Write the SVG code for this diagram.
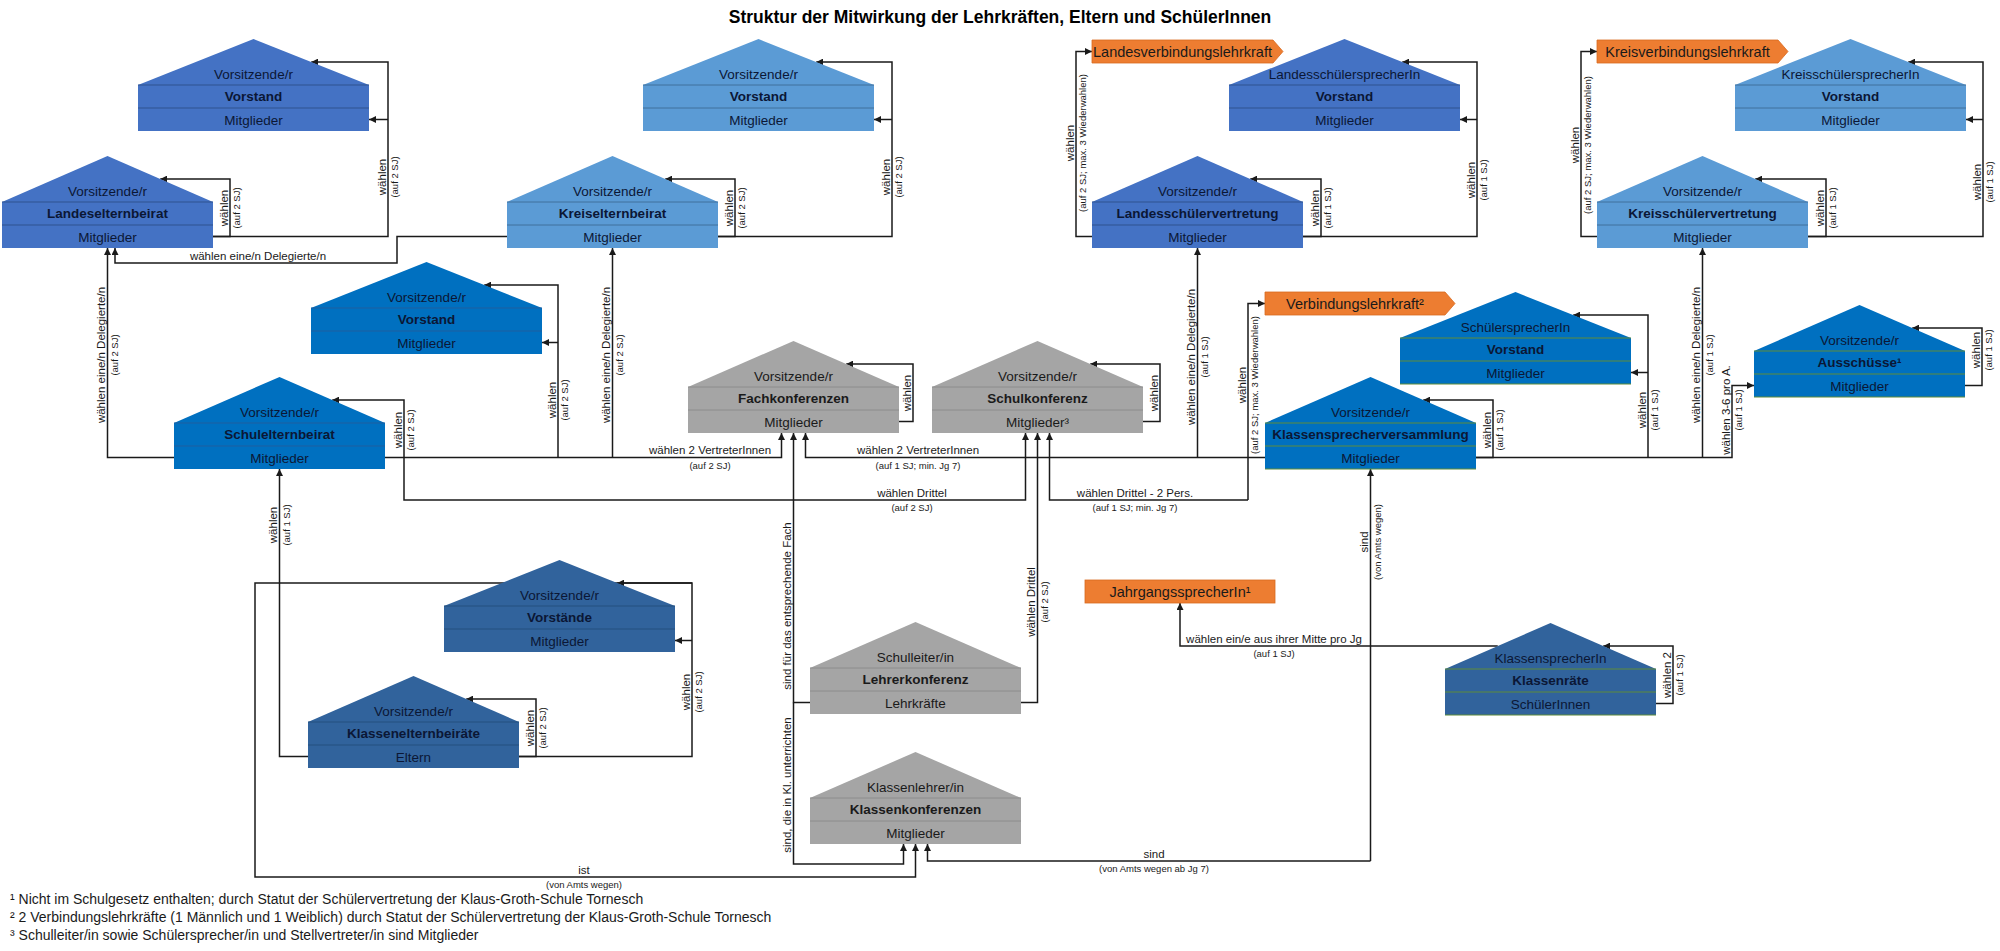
<svg xmlns="http://www.w3.org/2000/svg" width="2000" height="951" viewBox="0 0 2000 951">
<defs>
<marker id="ah" viewBox="0 0 10 10" refX="10" refY="5" markerWidth="7" markerHeight="7" orient="auto" markerUnits="userSpaceOnUse"><path d="M0,0L10,5L0,10z" fill="#1A1A1A"/></marker>
<style>
.f{stroke:none}
.lb .f{fill:#4472C4}.lb .s{stroke:#2F528F}
.mb .f{fill:#5B9BD5}.mb .s{stroke:#41719C}
.sb .f{fill:#0070C0}.sb .s{stroke:#1F5F9F}
.sg .f{fill:#0070C0}.sg .s{stroke:#5E8C3A}
.db .f{fill:#31639C}.db .s{stroke:#24507F}
.dg .f{fill:#31639C}.dg .s{stroke:#5E8C3A}
.gr .f{fill:#A5A5A5}.gr .s{stroke:#8C8C8C}
.s{fill:none;stroke-width:1}
.t{font-family:"Liberation Sans",Arial,sans-serif;font-size:13.5px;text-anchor:middle;fill:#0B1735}
.gr .t{fill:#1A1A1A}
.b{font-weight:bold}
.conn path{fill:none;stroke:#1A1A1A;stroke-width:1.5}
.arr{marker-end:url(#ah)}
.lbl{font-family:"Liberation Sans",Arial,sans-serif;font-size:11.5px;text-anchor:middle;fill:#1A1A1A}
.sub{font-size:9.5px}
.or{fill:#ED7D31;stroke:#D86A20;stroke-width:0.8}
.ot{font-family:"Liberation Sans",Arial,sans-serif;font-size:14.5px;text-anchor:middle;fill:#1A1A1A}
.fn{font-family:"Liberation Sans",Arial,sans-serif;font-size:14px;fill:#1A1A1A}
.title{font-family:"Liberation Sans",Arial,sans-serif;font-size:17.5px;font-weight:bold;text-anchor:middle;fill:#000}
</style>
</defs>
<rect width="2000" height="951" fill="#FFFFFF"/>
<text class="title" x="1000" y="23">Struktur der Mitwirkung der Lehrkräften, Eltern und SchülerInnen</text>

<g id="connectors" class="conn">
<path class="arr" d="M213,236.5H388V62H311.25"/>
<path class="arr" d="M388,119.5H369"/>
<path class="arr" d="M213,236.5H230V179H160.25"/>
<path class="arr" d="M507,236.5H397V263H115V248"/>
<path class="arr" d="M718,236.5H735V179H665.25"/>
<path class="arr" d="M718,236.5H892V62H816.25"/>
<path class="arr" d="M892,119.5H874"/>
<path class="arr" d="M174,457.5H107.5V248"/>
<path class="arr" d="M385,457.5H781.5V433"/>
<path class="arr" d="M612.5,457.5V248"/>
<path class="arr" d="M558,457.5V285H484.25"/>
<path class="arr" d="M558,342.5H542"/>
<path class="arr" d="M404,457.5V400H332.25"/>
<path class="arr" d="M404,457.5V500H1025.5V433"/>
<path class="arr" d="M899,421.5H913V364H846.25"/>
<path class="arr" d="M1143,421.5H1160V364H1090.25"/>
<path class="arr" d="M1265,457.5H805.5V433"/>
<path class="arr" d="M1197.5,457.5V248"/>
<path class="arr" d="M1248,500V303.5H1265"/>
<path class="arr" d="M1248,500H1049.5V433"/>
<path class="arr" d="M1476,457.5H1493V400H1423.25"/>
<path class="arr" d="M1476,457.5H1732V385.5H1754"/>
<path class="arr" d="M1648,457.5V315H1573.25"/>
<path class="arr" d="M1648,372.5H1631"/>
<path class="arr" d="M1702.5,457.5V248"/>
<path class="arr" d="M1965,385.5H1982V328H1912.25"/>
<path class="arr" d="M1092,236.5H1076V51.5H1092"/>
<path class="arr" d="M1303,236.5H1321V179H1250.25"/>
<path class="arr" d="M1303,236.5H1477V62H1402.25"/>
<path class="arr" d="M1477,119.5H1460"/>
<path class="arr" d="M1597,236.5H1581V51.5H1597"/>
<path class="arr" d="M1808,236.5H1826V179H1755.25"/>
<path class="arr" d="M1808,236.5H1983V62H1908.25"/>
<path class="arr" d="M1983,119.5H1966"/>
<path class="arr" d="M308,756.5H279.5V469"/>
<path class="arr" d="M519,756.5H536V699H466.25"/>
<path class="arr" d="M519,756.5H692V583H617.25"/>
<path class="arr" d="M692,640.5H675"/>
<path class="arr" d="M692,583H255V877H915.5V844"/>
<path class="arr" d="M810,702.5H793.5V433"/>
<path class="arr" d="M793.5,702.5V864H903.5V844"/>
<path class="arr" d="M1021,702.5H1037.5V433"/>
<path class="arr" d="M1497.75,646H1180V603"/>
<path class="arr" d="M1370.5,861V469"/>
<path class="arr" d="M1370.5,861H927.5V844"/>
<path class="arr" d="M1656,703.5H1673V646H1603.25"/>
</g>

<g id="connector-labels">
<g transform="translate(388,177) rotate(-90)"><text class="lbl" y="-2.5">wählen</text><text class="lbl sub" y="10">(auf 2 SJ)</text></g>
<g transform="translate(230,208) rotate(-90)"><text class="lbl" y="-2.5">wählen</text><text class="lbl sub" y="10">(auf 2 SJ)</text></g>
<g transform="translate(735,208) rotate(-90)"><text class="lbl" y="-2.5">wählen</text><text class="lbl sub" y="10">(auf 2 SJ)</text></g>
<g transform="translate(892,177) rotate(-90)"><text class="lbl" y="-2.5">wählen</text><text class="lbl sub" y="10">(auf 2 SJ)</text></g>
<g transform="translate(107.5,355) rotate(-90)"><text class="lbl" y="-2.5">wählen eine/n Delegierte/n</text><text class="lbl sub" y="10">(auf 2 SJ)</text></g>
<g transform="translate(612.5,355) rotate(-90)"><text class="lbl" y="-2.5">wählen eine/n Delegierte/n</text><text class="lbl sub" y="10">(auf 2 SJ)</text></g>
<g transform="translate(558,400) rotate(-90)"><text class="lbl" y="-2.5">wählen</text><text class="lbl sub" y="10">(auf 2 SJ)</text></g>
<g transform="translate(404,430) rotate(-90)"><text class="lbl" y="-2.5">wählen</text><text class="lbl sub" y="10">(auf 2 SJ)</text></g>
<g transform="translate(913,393) rotate(-90)"><text class="lbl" y="-2.5">wählen</text></g>
<g transform="translate(1160,393) rotate(-90)"><text class="lbl" y="-2.5">wählen</text></g>
<g transform="translate(1197.5,357) rotate(-90)"><text class="lbl" y="-2.5">wählen eine/n Delegierte/n</text><text class="lbl sub" y="10">(auf 1 SJ)</text></g>
<g transform="translate(1248,385) rotate(-90)"><text class="lbl" y="-2.5">wählen</text><text class="lbl sub" y="10">(auf 2 SJ; max. 3 Wiederwahlen)</text></g>
<g transform="translate(1493,430) rotate(-90)"><text class="lbl" y="-2.5">wählen</text><text class="lbl sub" y="10">(auf 1 SJ)</text></g>
<g transform="translate(1648,410) rotate(-90)"><text class="lbl" y="-2.5">wählen</text><text class="lbl sub" y="10">(auf 1 SJ)</text></g>
<g transform="translate(1702.5,355) rotate(-90)"><text class="lbl" y="-2.5">wählen eine/n Delegierte/n</text><text class="lbl sub" y="10">(auf 1 SJ)</text></g>
<g transform="translate(1732,410) rotate(-90)"><text class="lbl" y="-2.5">wählen 3-6 pro A.</text><text class="lbl sub" y="10">(auf 1 SJ)</text></g>
<g transform="translate(1982,350) rotate(-90)"><text class="lbl" y="-2.5">wählen</text><text class="lbl sub" y="10">(auf 1 SJ)</text></g>
<g transform="translate(1076,143) rotate(-90)"><text class="lbl" y="-2.5">wählen</text><text class="lbl sub" y="10">(auf 2 SJ; max. 3 Wiederwahlen)</text></g>
<g transform="translate(1321,208) rotate(-90)"><text class="lbl" y="-2.5">wählen</text><text class="lbl sub" y="10">(auf 1 SJ)</text></g>
<g transform="translate(1477,180) rotate(-90)"><text class="lbl" y="-2.5">wählen</text><text class="lbl sub" y="10">(auf 1 SJ)</text></g>
<g transform="translate(1581,145) rotate(-90)"><text class="lbl" y="-2.5">wählen</text><text class="lbl sub" y="10">(auf 2 SJ; max. 3 Wiederwahlen)</text></g>
<g transform="translate(1826,208) rotate(-90)"><text class="lbl" y="-2.5">wählen</text><text class="lbl sub" y="10">(auf 1 SJ)</text></g>
<g transform="translate(1983,182) rotate(-90)"><text class="lbl" y="-2.5">wählen</text><text class="lbl sub" y="10">(auf 1 SJ)</text></g>
<g transform="translate(279.5,525) rotate(-90)"><text class="lbl" y="-2.5">wählen</text><text class="lbl sub" y="10">(auf 1 SJ)</text></g>
<g transform="translate(536,728) rotate(-90)"><text class="lbl" y="-2.5">wählen</text><text class="lbl sub" y="10">(auf 2 SJ)</text></g>
<g transform="translate(692,692) rotate(-90)"><text class="lbl" y="-2.5">wählen</text><text class="lbl sub" y="10">(auf 2 SJ)</text></g>
<g transform="translate(793.5,606) rotate(-90)"><text class="lbl" y="-2.5">sind für das entsprechende Fach</text></g>
<g transform="translate(793.5,785) rotate(-90)"><text class="lbl" y="-2.5">sind, die in Kl. unterrichten</text></g>
<g transform="translate(1037.5,602) rotate(-90)"><text class="lbl" y="-2.5">wählen Drittel</text><text class="lbl sub" y="10">(auf 2 SJ)</text></g>
<g transform="translate(1370.5,542) rotate(-90)"><text class="lbl" y="-2.5">sind</text><text class="lbl sub" y="10">(von Amts wegen)</text></g>
<g transform="translate(1673,675) rotate(-90)"><text class="lbl" y="-2.5">wählen 2</text><text class="lbl sub" y="10">(auf 1 SJ)</text></g>
<text class="lbl" x="258" y="259.5">wählen eine/n Delegierte/n</text>
<text class="lbl" x="710" y="454">wählen 2 VertreterInnen</text><text class="lbl sub" x="710" y="468.5">(auf 2 SJ)</text>
<text class="lbl" x="918" y="454">wählen 2 VertreterInnen</text><text class="lbl sub" x="918" y="468.5">(auf 1 SJ; min. Jg 7)</text>
<text class="lbl" x="912" y="496.5">wählen Drittel</text><text class="lbl sub" x="912" y="511">(auf 2 SJ)</text>
<text class="lbl" x="1135" y="496.5">wählen Drittel - 2 Pers.</text><text class="lbl sub" x="1135" y="511">(auf 1 SJ; min. Jg 7)</text>
<text class="lbl" x="584" y="873.5">ist</text><text class="lbl sub" x="584" y="888">(von Amts wegen)</text>
<text class="lbl" x="1154" y="857.5">sind</text><text class="lbl sub" x="1154" y="872">(von Amts wegen ab Jg 7)</text>
<text class="lbl" x="1274" y="642.5">wählen ein/e aus ihrer Mitte pro Jg</text><text class="lbl sub" x="1274" y="657">(auf 1 SJ)</text>
</g>

<g id="h-leb-vorstand" class="lb"><polygon class="f" points="138,85 369,85 253.5,39"/><rect class="f" x="138" y="85" width="231" height="46"/><path class="s" d="M138,85H369M138,108H369"/><text class="t" x="253.5" y="79">Vorsitzende/r</text><text class="t b" x="253.5" y="101">Vorstand</text><text class="t" x="253.5" y="124.5">Mitglieder</text></g>
<g id="h-leb" class="lb"><polygon class="f" points="2,202 213,202 107.5,156"/><rect class="f" x="2" y="202" width="211" height="46"/><path class="s" d="M2,202H213M2,225H213"/><text class="t" x="107.5" y="196">Vorsitzende/r</text><text class="t b" x="107.5" y="218">Landeselternbeirat</text><text class="t" x="107.5" y="241.5">Mitglieder</text></g>
<g id="h-keb-vorstand" class="mb"><polygon class="f" points="643,85 874,85 758.5,39"/><rect class="f" x="643" y="85" width="231" height="46"/><path class="s" d="M643,85H874M643,108H874"/><text class="t" x="758.5" y="79">Vorsitzende/r</text><text class="t b" x="758.5" y="101">Vorstand</text><text class="t" x="758.5" y="124.5">Mitglieder</text></g>
<g id="h-keb" class="mb"><polygon class="f" points="507,202 718,202 612.5,156"/><rect class="f" x="507" y="202" width="211" height="46"/><path class="s" d="M507,202H718M507,225H718"/><text class="t" x="612.5" y="196">Vorsitzende/r</text><text class="t b" x="612.5" y="218">Kreiselternbeirat</text><text class="t" x="612.5" y="241.5">Mitglieder</text></g>
<g id="h-seb-vorstand" class="sb"><polygon class="f" points="311,308 542,308 426.5,262"/><rect class="f" x="311" y="308" width="231" height="46"/><path class="s" d="M311,308H542M311,331H542"/><text class="t" x="426.5" y="302">Vorsitzende/r</text><text class="t b" x="426.5" y="324">Vorstand</text><text class="t" x="426.5" y="347.5">Mitglieder</text></g>
<g id="h-seb" class="sb"><polygon class="f" points="174,423 385,423 279.5,377"/><rect class="f" x="174" y="423" width="211" height="46"/><path class="s" d="M174,423H385M174,446H385"/><text class="t" x="279.5" y="417">Vorsitzende/r</text><text class="t b" x="279.5" y="439">Schulelternbeirat</text><text class="t" x="279.5" y="462.5">Mitglieder</text></g>
<g id="h-fachkonferenzen" class="gr"><polygon class="f" points="688,387 899,387 793.5,341"/><rect class="f" x="688" y="387" width="211" height="46"/><path class="s" d="M688,387H899M688,410H899"/><text class="t" x="793.5" y="381">Vorsitzende/r</text><text class="t b" x="793.5" y="403">Fachkonferenzen</text><text class="t" x="793.5" y="426.5">Mitglieder</text></g>
<g id="h-schulkonferenz" class="gr"><polygon class="f" points="932,387 1143,387 1037.5,341"/><rect class="f" x="932" y="387" width="211" height="46"/><path class="s" d="M932,387H1143M932,410H1143"/><text class="t" x="1037.5" y="381">Vorsitzende/r</text><text class="t b" x="1037.5" y="403">Schulkonferenz</text><text class="t" x="1037.5" y="426.5">Mitglieder³</text></g>
<g id="h-vorstaende" class="db"><polygon class="f" points="444,606 675,606 559.5,560"/><rect class="f" x="444" y="606" width="231" height="46"/><path class="s" d="M444,606H675M444,629H675"/><text class="t" x="559.5" y="600">Vorsitzende/r</text><text class="t b" x="559.5" y="622">Vorstände</text><text class="t" x="559.5" y="645.5">Mitglieder</text></g>
<g id="h-klasseneltern" class="db"><polygon class="f" points="308,722 519,722 413.5,676"/><rect class="f" x="308" y="722" width="211" height="46"/><path class="s" d="M308,722H519M308,745H519"/><text class="t" x="413.5" y="716">Vorsitzende/r</text><text class="t b" x="413.5" y="738">Klassenelternbeiräte</text><text class="t" x="413.5" y="761.5">Eltern</text></g>
<g id="h-lehrerkonferenz" class="gr"><polygon class="f" points="810,668 1021,668 915.5,622"/><rect class="f" x="810" y="668" width="211" height="46"/><path class="s" d="M810,668H1021M810,691H1021"/><text class="t" x="915.5" y="662">Schulleiter/in</text><text class="t b" x="915.5" y="684">Lehrerkonferenz</text><text class="t" x="915.5" y="707.5">Lehrkräfte</text></g>
<g id="h-klassenkonferenzen" class="gr"><polygon class="f" points="810,798 1021,798 915.5,752"/><rect class="f" x="810" y="798" width="211" height="46"/><path class="s" d="M810,798H1021M810,821H1021"/><text class="t" x="915.5" y="792">Klassenlehrer/in</text><text class="t b" x="915.5" y="814">Klassenkonferenzen</text><text class="t" x="915.5" y="837.5">Mitglieder</text></g>
<g id="h-lsv-vorstand" class="lb"><polygon class="f" points="1229,85 1460,85 1344.5,39"/><rect class="f" x="1229" y="85" width="231" height="46"/><path class="s" d="M1229,85H1460M1229,108H1460"/><text class="t" x="1344.5" y="79">LandesschülersprecherIn</text><text class="t b" x="1344.5" y="101">Vorstand</text><text class="t" x="1344.5" y="124.5">Mitglieder</text></g>
<g id="h-lsv" class="lb"><polygon class="f" points="1092,202 1303,202 1197.5,156"/><rect class="f" x="1092" y="202" width="211" height="46"/><path class="s" d="M1092,202H1303M1092,225H1303"/><text class="t" x="1197.5" y="196">Vorsitzende/r</text><text class="t b" x="1197.5" y="218">Landesschülervertretung</text><text class="t" x="1197.5" y="241.5">Mitglieder</text></g>
<g id="h-kreis-vorstand" class="mb"><polygon class="f" points="1735,85 1966,85 1850.5,39"/><rect class="f" x="1735" y="85" width="231" height="46"/><path class="s" d="M1735,85H1966M1735,108H1966"/><text class="t" x="1850.5" y="79">KreisschülersprecherIn</text><text class="t b" x="1850.5" y="101">Vorstand</text><text class="t" x="1850.5" y="124.5">Mitglieder</text></g>
<g id="h-kreis-sv" class="mb"><polygon class="f" points="1597,202 1808,202 1702.5,156"/><rect class="f" x="1597" y="202" width="211" height="46"/><path class="s" d="M1597,202H1808M1597,225H1808"/><text class="t" x="1702.5" y="196">Vorsitzende/r</text><text class="t b" x="1702.5" y="218">Kreisschülervertretung</text><text class="t" x="1702.5" y="241.5">Mitglieder</text></g>
<g id="h-sprecher-vorstand" class="sg"><polygon class="f" points="1400,338 1631,338 1515.5,292"/><rect class="f" x="1400" y="338" width="231" height="46"/><path class="s" d="M1400,338H1631M1400,361H1631M1400,384H1631"/><text class="t" x="1515.5" y="332">SchülersprecherIn</text><text class="t b" x="1515.5" y="354">Vorstand</text><text class="t" x="1515.5" y="377.5">Mitglieder</text></g>
<g id="h-ausschuesse" class="sg"><polygon class="f" points="1754,351 1965,351 1859.5,305"/><rect class="f" x="1754" y="351" width="211" height="46"/><path class="s" d="M1754,351H1965M1754,374H1965M1754,397H1965"/><text class="t" x="1859.5" y="345">Vorsitzende/r</text><text class="t b" x="1859.5" y="367">Ausschüsse¹</text><text class="t" x="1859.5" y="390.5">Mitglieder</text></g>
<g id="h-ksv" class="sg"><polygon class="f" points="1265,423 1476,423 1370.5,377"/><rect class="f" x="1265" y="423" width="211" height="46"/><path class="s" d="M1265,423H1476M1265,446H1476M1265,469H1476"/><text class="t" x="1370.5" y="417">Vorsitzende/r</text><text class="t b" x="1370.5" y="439">Klassensprecherversammlung</text><text class="t" x="1370.5" y="462.5">Mitglieder</text></g>
<g id="h-klassenraete" class="dg"><polygon class="f" points="1445,669 1656,669 1550.5,623"/><rect class="f" x="1445" y="669" width="211" height="46"/><path class="s" d="M1445,669H1656M1445,692H1656M1445,715H1656"/><text class="t" x="1550.5" y="663">KlassensprecherIn</text><text class="t b" x="1550.5" y="685">Klassenräte</text><text class="t" x="1550.5" y="708.5">SchülerInnen</text></g>

<g id="o-landesverbindungslehrkraft"><polygon class="or" points="1092,40 1273,40 1283,51.5 1273,63 1092,63"/><text class="ot" x="1182.5" y="56.5">Landesverbindungslehrkraft</text></g>
<g id="o-kreisverbindungslehrkraft"><polygon class="or" points="1597,40 1778,40 1788,51.5 1778,63 1597,63"/><text class="ot" x="1687.5" y="56.5">Kreisverbindungslehrkraft</text></g>
<g id="o-verbindungslehrkraft"><polygon class="or" points="1265,292 1445,292 1455,303.5 1445,315 1265,315"/><text class="ot" x="1355" y="308.5">Verbindungslehrkraft²</text></g>
<g id="o-jahrgangssprecher"><rect class="or" x="1085" y="580" width="190" height="23"/><text class="ot" x="1180" y="596.5">JahrgangssprecherIn¹</text></g>

<g id="footnotes">
<text class="fn" x="10" y="904">¹ Nicht im Schulgesetz enthalten; durch Statut der Schülervertretung der Klaus-Groth-Schule Tornesch</text>
<text class="fn" x="10" y="922">² 2 Verbindungslehrkräfte (1 Männlich und 1 Weiblich) durch Statut der Schülervertretung der Klaus-Groth-Schule Tornesch</text>
<text class="fn" x="10" y="940">³ Schulleiter/in sowie Schülersprecher/in und Stellvertreter/in sind Mitglieder</text>
</g>
</svg>
